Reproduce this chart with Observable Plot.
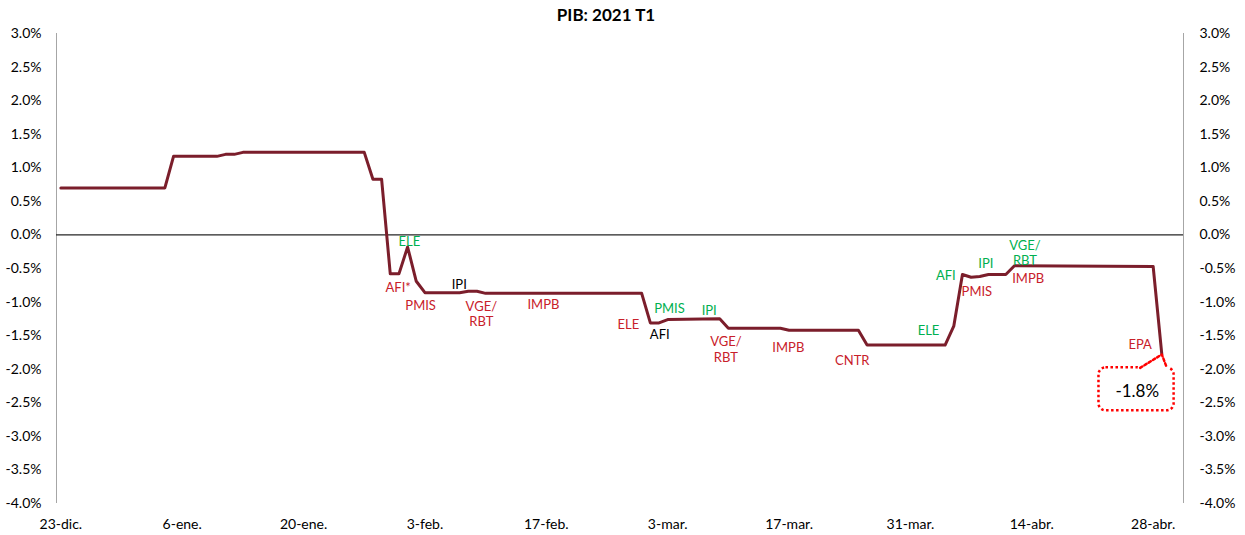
<!DOCTYPE html>
<html>
<head>
<meta charset="utf-8">
<script src="https://cdn.jsdelivr.net/npm/d3@7"></script>
<script src="https://cdn.jsdelivr.net/npm/@observablehq/plot@0.6"></script>
<style>
  html, body { margin: 0; padding: 0; background: #fff; }
  #chart svg { display: block; }
</style>
</head>
<body>
<div id="chart"></div>
<script>
// ---- Data ----
const chartTitle = "PIB: 2021 T1";

// nowcast path (breakpoints of the daily line)
const seriesDates = ["2020-12-23","2021-01-04","2021-01-05","2021-01-10","2021-01-11","2021-01-12","2021-01-13","2021-01-27","2021-01-28","2021-01-29","2021-01-30","2021-01-31","2021-02-01","2021-02-02","2021-02-03","2021-02-07","2021-02-08","2021-02-09","2021-02-10","2021-02-28","2021-03-01","2021-03-02","2021-03-03","2021-03-09","2021-03-10","2021-03-16","2021-03-17","2021-03-25","2021-03-26","2021-04-04","2021-04-05","2021-04-06","2021-04-07","2021-04-08","2021-04-09","2021-04-11","2021-04-12","2021-04-28","2021-04-29"];
const seriesValues = [0.70,0.70,1.17,1.17,1.20,1.20,1.23,1.23,0.83,0.83,-0.58,-0.58,-0.18,-0.69,-0.86,-0.86,-0.84,-0.84,-0.87,-0.87,-1.31,-1.31,-1.26,-1.25,-1.39,-1.39,-1.42,-1.42,-1.64,-1.64,-1.36,-0.59,-0.63,-0.62,-0.59,-0.59,-0.46,-0.47,-1.78];

// x axis
const xDomainDates = ["2020-12-22T12:00Z","2021-05-01T12:00Z"];
const xTickDates = ["2020-12-23","2021-01-06","2021-01-20","2021-02-03","2021-02-17","2021-03-03","2021-03-17","2021-03-31","2021-04-14","2021-04-28"];
const xTickLabels = ["23-dic.","6-ene.","20-ene.","3-feb.","17-feb.","3-mar.","17-mar.","31-mar.","14-abr.","28-abr."];

// y axis
const yDomain = [-4, 3];
const yTicks = [-4,-3.5,-3,-2.5,-2,-1.5,-1,-0.5,0,0.5,1,1.5,2,2.5,3];

// data-release annotations
const noteTexts  = ["ELE","AFI*","PMIS","IPI","VGE/\nRBT","IMPB","ELE","PMIS","IPI","AFI","VGE/\nRBT","IMPB","CNTR","ELE","AFI","PMIS","IPI","VGE/\nRBT","IMPB","EPA"];
const noteDates  = ["2021-02-01T05:00Z","2021-01-30T22:00Z","2021-02-02T12:00Z","2021-02-06T23:00Z","2021-02-09T12:00Z","2021-02-16T16:00Z","2021-02-26T11:00Z","2021-03-03T05:00Z","2021-03-07T19:00Z","2021-03-02T02:00Z","2021-03-09T17:00Z","2021-03-16T22:00Z","2021-03-24T07:00Z","2021-04-02T02:00Z","2021-04-04T02:00Z","2021-04-07T16:00Z","2021-04-08T17:00Z","2021-04-13T05:00Z","2021-04-13T14:00Z","2021-04-26T12:00Z"];
const noteValues = [-0.09,-0.77,-1.04,-0.73,-1.17,-1.03,-1.33,-1.09,-1.12,-1.48,-1.70,-1.67,-1.87,-1.42,-0.60,-0.83,-0.42,-0.26,-0.64,-1.63];
const noteColors = ["#00B050","#C8202A","#C8202A","#000000","#C8202A","#C8202A","#C8202A","#00B050","#00B050","#000000","#C8202A","#C8202A","#C8202A","#00B050","#00B050","#C8202A","#00B050","#00B050","#C8202A","#C8202A"];

// final-value callout
const calloutText = "-1.8%";
const calloutTextDate = "2021-04-26T04:00Z";
const calloutTextValue = -2.34;
const calloutBoxDates = ["2021-04-21T18:00Z","2021-04-30T10:00Z"];
const calloutBoxValues = [-1.98,-2.62];
const calloutWedgeDates = ["2021-04-26T12:00Z","2021-04-29","2021-04-29T14:00Z"];
const calloutWedgeValues = [-1.98,-1.78,-1.98];

// ---- Build ----
const P = s => new Date(s);
const series = seriesDates.map((d,i) => ({date: P(d), value: seriesValues[i]}));
const notes = noteTexts.map((t,i) => ({text: t, date: P(noteDates[i]), value: noteValues[i], color: noteColors[i]}));
const xDomain = xDomainDates.map(P);
const tickDates = xTickDates.map(P);
const tickLabel = new Map(tickDates.map((d,i) => [+d, xTickLabels[i]]));
const wedge = calloutWedgeDates.map((d,i) => ({date: P(d), value: calloutWedgeValues[i]}));
const wedgeBase = [wedge[0], wedge[2]];

const red = "#FF0000";
const fmtY = v => v.toFixed(1) + "%";

const chart = Plot.plot({
  width: 1245,
  height: 535,
  marginTop: 33,
  marginBottom: 32,
  marginLeft: 56,
  marginRight: 62,
  style: {fontFamily: "Lato, 'Open Sans', sans-serif", fontSize: "14px", color: "#000", background: "#fff"},
  x: {type: "utc", domain: xDomain, axis: null},
  y: {domain: yDomain, axis: null},
  color: {type: "identity"},
  marks: [
    Plot.ruleX(xDomain, {stroke: "#A6A6A6", strokeWidth: 1}),
    Plot.ruleY([0], {stroke: "#262626", strokeWidth: 1.2}),
    Plot.axisY({anchor: "left", label: null, ticks: yTicks, tickSize: 0, tickPadding: 15, tickFormat: fmtY, fill: "#000", fontSize: 14}),
    Plot.axisY({anchor: "right", label: null, ticks: yTicks, tickSize: 0, tickPadding: 16, tickFormat: fmtY, fill: "#000", fontSize: 14, textAnchor: "start"}),
    Plot.axisX({anchor: "bottom", label: null, ticks: tickDates, tickSize: 0, tickPadding: 16, tickFormat: d => tickLabel.get(+d), fill: "#000", fontSize: 14}),
    Plot.line(series, {x: "date", y: "value", stroke: "#7B1E2B", strokeWidth: 3, strokeLinejoin: "round"}),
    Plot.text(notes, {x: "date", y: "value", text: "text", fill: "color", fontSize: 13, lineHeight: 1.2}),
    Plot.rect([0], {x1: () => P(calloutBoxDates[0]), x2: () => P(calloutBoxDates[1]), y1: () => calloutBoxValues[0], y2: () => calloutBoxValues[1], fill: "none", stroke: red, strokeWidth: 2.5, strokeDasharray: "2.5,2.5", rx: 7}),
    Plot.line(wedgeBase, {x: "date", y: "value", stroke: "#fff", strokeWidth: 5}),
    Plot.line(wedge, {x: "date", y: "value", stroke: red, strokeWidth: 2.5, strokeDasharray: "2.5,2.5"}),
    Plot.text([calloutText], {x: () => P(calloutTextDate), y: () => calloutTextValue, text: d => d, fontSize: 17, fill: "#000"}),
    Plot.text([chartTitle], {frameAnchor: "top", lineAnchor: "middle", dy: -18, dx: -14, text: d => d, fontWeight: "bold", fontSize: 17, fill: "#000"})
  ]
});
document.getElementById("chart").appendChild(chart);
</script>
</body>
</html>
